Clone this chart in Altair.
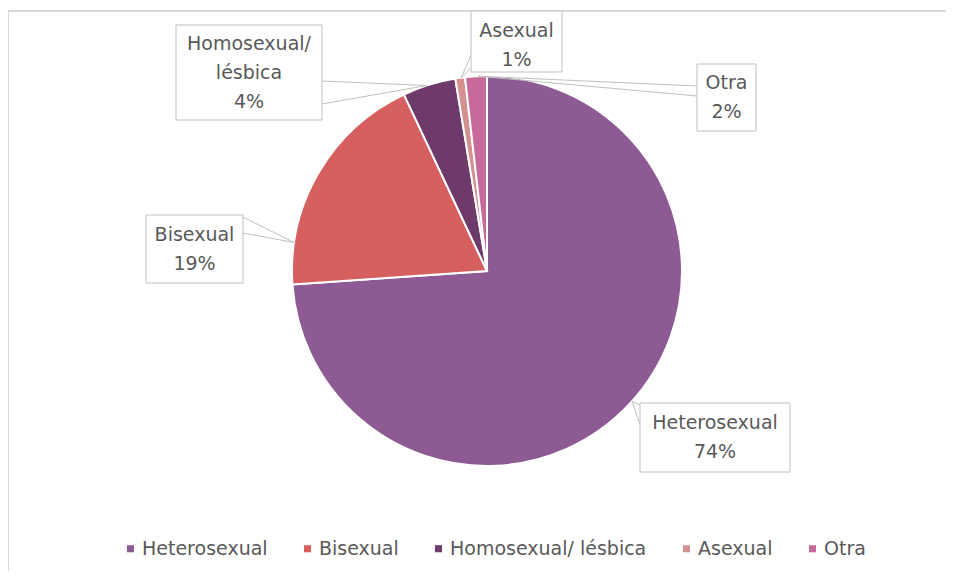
import math
import altair as alt
import pandas as pd

# ---- data ----
categories = ["Heterosexual", "Bisexual", "Homosexual/ lésbica", "Asexual", "Otra"]
values = [73.9, 19.1, 4.4, 0.8, 1.8]
label_names = ["Heterosexual", "Bisexual", "Homosexual/\nlésbica", "Asexual", "Otra"]
colors = ["#8E5A94", "#D65F5F", "#6E3A6A", "#D4908F", "#C7699A"]

# ---- layout (pixels, view coordinates) ----
W, H = 938, 563
CX, CY, R = 479, 263, 195
LH = 29
box_center = [(707, 429.5), (186.5, 241), (241, 64.5), (508.5, 33.5), (718.5, 89.5)]
box_size = [(150, 69), (97, 68), (146, 95), (91, 61), (59, 67)]
text_dy = [0, 0, 0, 4, 0]
tip_angle = [131.9, 278.4, 342.0, 352.4, 357.4]
base_pts = [((632, 397), (632, 417)), ((235, 209), (235, 225)), ((314, 73), (314, 96)),
            ((463, 47), (463, 60)), ((689, 78), (689, 88))]

FONT = "DejaVu Sans"
TXT = "#595959"

df = pd.DataFrame({"category": categories, "value": values, "order": list(range(len(categories)))})

labels = []
for i, c in enumerate(categories):
    pct = f"{round(values[i]):d}%"
    text = label_names[i] + "\n" + pct
    n = text.count("\n") + 1
    labels.append({
        "category": c,
        "text": text,
        "x": box_center[i][0],
        "y": box_center[i][1] + text_dy[i] - (n - 1) * LH / 2,
        "bx": box_center[i][0] - box_size[i][0] / 2, "bx2": box_center[i][0] + box_size[i][0] / 2,
        "by": box_center[i][1] - box_size[i][1] / 2, "by2": box_center[i][1] + box_size[i][1] / 2,
    })
lab_df = pd.DataFrame(labels)

lines = []
for i, c in enumerate(categories):
    a = math.radians(tip_angle[i])
    tx, ty = CX + R * math.sin(a), CY - R * math.cos(a)
    for (bx, by) in base_pts[i]:
        lines.append({"category": c, "x": tx, "y": ty, "x2": bx, "y2": by})
line_df = pd.DataFrame(lines)

pie = alt.Chart(df).mark_arc(outerRadius=R, stroke="white", strokeWidth=2).encode(
    theta=alt.Theta("value:Q", stack=True),
    order=alt.Order("order:Q"),
    color=alt.Color(
        "category:N",
        scale=alt.Scale(domain=categories, range=colors),
        sort=categories,
        legend=alt.Legend(
            orient="none", legendX=113, legendY=531, direction="horizontal", title=None,
            symbolType="square", symbolSize=50, symbolStrokeWidth=0,
            labelFont=FONT, labelFontSize=19, labelColor=TXT, labelOffset=2,
            labelLimit=0, columnPadding=30, padding=0,
        ),
    ),
    x=alt.value(CX),
    y=alt.value(CY),
)

callouts = alt.Chart(line_df).mark_rule(color="#BFBFBF", strokeWidth=1).encode(
    x=alt.X("x:Q", scale=None, axis=None),
    y=alt.Y("y:Q", scale=None, axis=None),
    x2="x2:Q",
    y2="y2:Q",
)

boxes = alt.Chart(lab_df).mark_rect(fill="white", stroke="#BFBFBF", strokeWidth=1).encode(
    x=alt.X("bx:Q", scale=None, axis=None),
    x2="bx2:Q",
    y=alt.Y("by:Q", scale=None, axis=None),
    y2="by2:Q",
)

texts = alt.Chart(lab_df).mark_text(
    lineBreak="\n", lineHeight=LH, font=FONT, fontSize=19, color=TXT,
    align="center", baseline="middle",
).encode(
    x=alt.X("x:Q", scale=None, axis=None),
    y=alt.Y("y:Q", scale=None, axis=None),
    text="text:N",
)

border_top = alt.Chart(df).mark_rule(color="#D9D9D9", strokeWidth=2).encode(
    x=alt.value(0), x2=alt.value(W), y=alt.value(3)
)
border_left = alt.Chart(df).mark_rule(color="#D9D9D9", strokeWidth=2).encode(
    x=alt.value(0), y=alt.value(3), y2=alt.value(H)
)

chart = alt.layer(border_top, border_left, pie, callouts, boxes, texts).properties(
    width=W, height=H, padding=0, autosize=alt.AutoSizeParams(type="none"),
    background="white",
).configure_view(stroke=None)

chart.save("out.html", embed_options={"renderer": "svg", "actions": False})
